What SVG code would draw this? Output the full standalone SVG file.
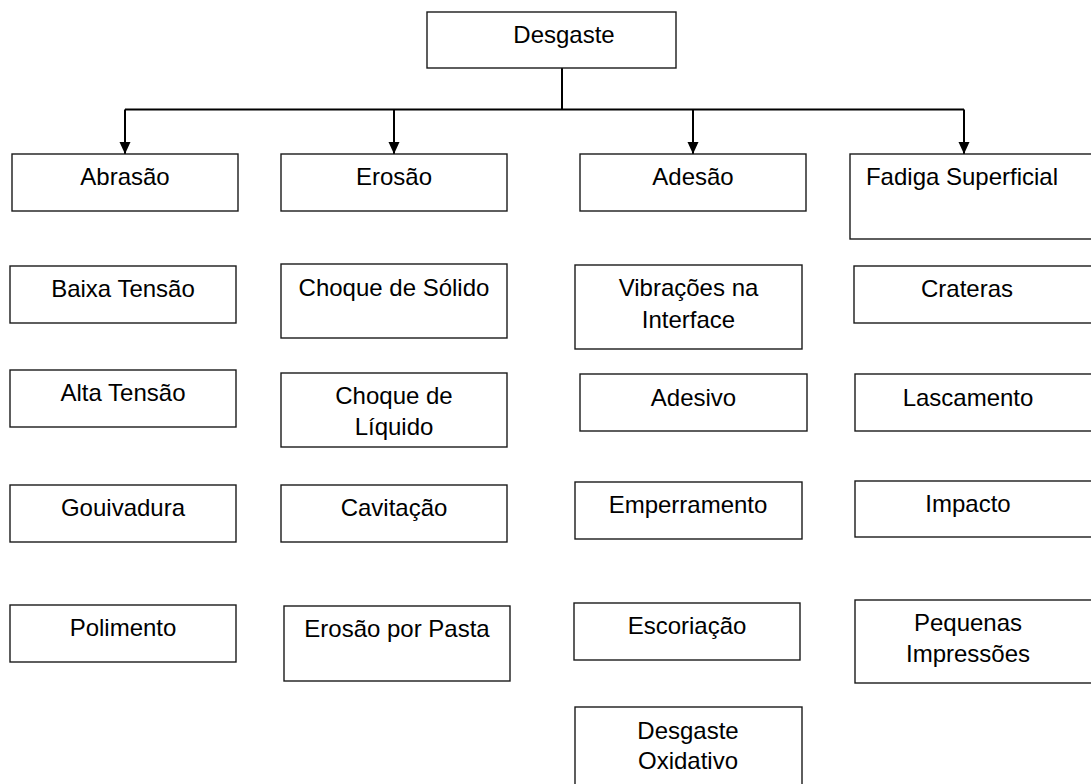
<svg xmlns="http://www.w3.org/2000/svg" width="1091" height="784" viewBox="0 0 1091 784">
<style>
.box{fill:#ffffff;stroke:#1a1a1a;stroke-width:1.4}
.lbl{font-family:"Liberation Sans",Arial,sans-serif;font-size:24px;fill:#000;text-anchor:middle}
.con{fill:none;stroke:#000;stroke-width:2}
</style>
<defs>
<marker id="arr" markerUnits="userSpaceOnUse" markerWidth="12" markerHeight="13" refX="6" refY="12" orient="auto-start-reverse" viewBox="0 0 12 13">
<path d="M0.5,0 L11.5,0 L6,12 Z" fill="#000" transform="rotate(-90 6 6)"/>
</marker>
<marker id="ah" markerUnits="userSpaceOnUse" markerWidth="12" markerHeight="12" refX="12" refY="6" orient="auto" viewBox="0 0 12 12">
<path d="M0,0.5 L12,6 L0,11.5 Z" fill="#000"/>
</marker>
</defs>
<rect width="1091" height="784" fill="#ffffff"/>
<g id="connectors">
<path class="con" d="M562,68 V109.5"/>
<path class="con" d="M125,109.5 H964"/>
<path class="con" d="M125,109.5 V154" marker-end="url(#ah)"/>
<path class="con" d="M394,109.5 V154" marker-end="url(#ah)"/>
<path class="con" d="M693,109.5 V154" marker-end="url(#ah)"/>
<path class="con" d="M964,109.5 V154" marker-end="url(#ah)"/>
</g>
<g id="n-desgaste"><rect class="box" x="427" y="12" width="249" height="56"/><text class="lbl" x="564" y="43">Desgaste</text></g>
<g id="n-abrasao"><rect class="box" x="12" y="154" width="226" height="57"/><text class="lbl" x="125" y="185">Abrasão</text></g>
<g id="n-erosao"><rect class="box" x="281" y="154" width="226" height="57"/><text class="lbl" x="394" y="185">Erosão</text></g>
<g id="n-adesao"><rect class="box" x="580" y="154" width="226" height="57"/><text class="lbl" x="693" y="185">Adesão</text></g>
<g id="n-fadiga"><rect class="box" x="850" y="154" width="245" height="85"/><text class="lbl" x="962" y="185">Fadiga Superficial</text></g>
<g id="n-baixa"><rect class="box" x="10" y="266" width="226" height="57"/><text class="lbl" x="123" y="297">Baixa Tensão</text></g>
<g id="n-solido"><rect class="box" x="281" y="264" width="226" height="74"/><text class="lbl" x="394" y="296">Choque de Sólido</text></g>
<g id="n-vibracoes"><rect class="box" x="575" y="265" width="227" height="84"/><text class="lbl" x="688.5" y="296">Vibrações na</text><text class="lbl" x="688.5" y="327.5">Interface</text></g>
<g id="n-crateras"><rect class="box" x="854" y="266" width="241" height="57"/><text class="lbl" x="967" y="297">Crateras</text></g>
<g id="n-alta"><rect class="box" x="10" y="370" width="226" height="57"/><text class="lbl" x="123" y="401">Alta Tensão</text></g>
<g id="n-liquido"><rect class="box" x="281" y="373" width="226" height="74"/><text class="lbl" x="394" y="404">Choque de</text><text class="lbl" x="394" y="435">Líquido</text></g>
<g id="n-adesivo"><rect class="box" x="580" y="374" width="227" height="57"/><text class="lbl" x="693.5" y="406">Adesivo</text></g>
<g id="n-lascamento"><rect class="box" x="855" y="374" width="240" height="57"/><text class="lbl" x="968" y="406">Lascamento</text></g>
<g id="n-gouivadura"><rect class="box" x="10" y="485" width="226" height="57"/><text class="lbl" x="123" y="516">Gouivadura</text></g>
<g id="n-cavitacao"><rect class="box" x="281" y="485" width="226" height="57"/><text class="lbl" x="394" y="516">Cavitação</text></g>
<g id="n-emperramento"><rect class="box" x="575" y="482" width="227" height="57"/><text class="lbl" x="688" y="513">Emperramento</text></g>
<g id="n-impacto"><rect class="box" x="855" y="481" width="240" height="56"/><text class="lbl" x="968" y="512">Impacto</text></g>
<g id="n-polimento"><rect class="box" x="10" y="605" width="226" height="57"/><text class="lbl" x="123" y="636">Polimento</text></g>
<g id="n-pasta"><rect class="box" x="284" y="606" width="226" height="75"/><text class="lbl" x="397" y="637">Erosão por Pasta</text></g>
<g id="n-escoriacao"><rect class="box" x="574" y="603" width="226" height="57"/><text class="lbl" x="687" y="634">Escoriação</text></g>
<g id="n-pequenas"><rect class="box" x="855" y="600" width="240" height="83"/><text class="lbl" x="968" y="631">Pequenas</text><text class="lbl" x="968" y="662">Impressões</text></g>
<g id="n-oxidativo"><rect class="box" x="575" y="707" width="227" height="90"/><text class="lbl" x="688" y="739">Desgaste</text><text class="lbl" x="688" y="769">Oxidativo</text></g>
</svg>
